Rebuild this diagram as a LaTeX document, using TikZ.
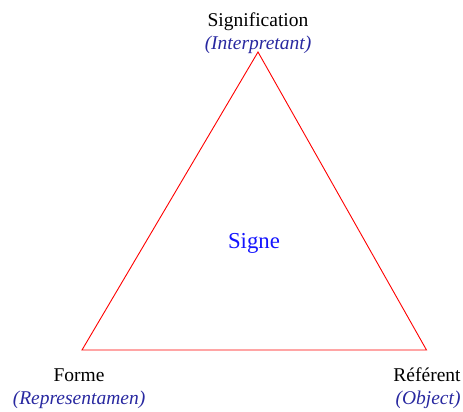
\documentclass[tikz,border=0pt]{standalone}
\usepackage{fontspec}
\setmainfont{Liberation Serif}
\definecolor{lblblue}{RGB}{40,40,160}
\definecolor{signblue}{RGB}{20,20,255}
\definecolor{trired}{RGB}{255,0,0}
\tikzset{
  vlabel/.style={anchor=base, inner sep=0pt, font=\fontsize{19.5}{22}\selectfont, text=black},
  elabel/.style={anchor=base, inner sep=0pt, font=\fontsize{19.5}{22}\selectfont\itshape, text=lblblue},
  signlabel/.style={anchor=base, inner sep=0pt, font=\fontsize{22.8}{26}\selectfont, text=signblue},
  triline/.style={draw=trired, line width=0.9pt, line join=miter}
}
\begin{document}
\begin{tikzpicture}[x=1pt,y=-1pt]
\useasboundingbox (0,0) rectangle (463,412);
\coordinate (top) at (258,52);
\coordinate (bl) at (82,350);
\coordinate (br) at (426.5,350);
\draw[triline] (top) -- (bl) -- (br) -- cycle;
\node[vlabel] (signif) at (258,27) {Signification};
\node[elabel] (interp) at (258,49) {(Interpretant)};
\node[signlabel] (signe) at (254,248) {Signe};
\node[vlabel] (forme) at (79,381) {Forme};
\node[elabel] (repr) at (79,404) {(Representamen)};
\node[vlabel] (refer) at (427,381) {Référent};
\node[elabel] (obj) at (428,404) {(Object)};
\end{tikzpicture}
\end{document}
